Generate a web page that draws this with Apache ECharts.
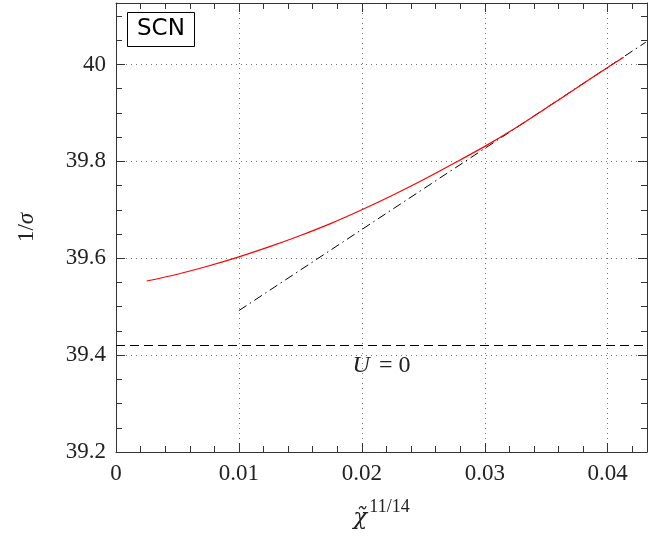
<!DOCTYPE html>
<html>
<head>
<meta charset="utf-8">
<script src="https://cdn.jsdelivr.net/npm/echarts@6/dist/echarts.min.js"></script>
<style>
  html, body { margin: 0; padding: 0; background: #fff; }
  #chart { width: 649px; height: 536px; }
</style>
</head>
<body>
<div id="chart"></div>
<script>
  // red curve: 1/sigma against chi~^(11/14)
  var chiX = [0.0025, 0.005, 0.0075, 0.01, 0.0125, 0.015, 0.0175, 0.02, 0.0225, 0.025,
              0.0275, 0.03, 0.0325, 0.035, 0.0375, 0.04, 0.0413]
  var sigmaInv = [39.553, 39.567, 39.584, 39.603, 39.624, 39.647, 39.672, 39.700, 39.730, 39.762,
                  39.796, 39.831, 39.869, 39.910, 39.952, 39.994, 40.015]
  // dash-dot fit line end points
  var fitX = [0.01, 0.0431]
  var fitY = [39.492, 40.046]
  // U = 0 level
  var uZero = 39.424

  var serif = 'Liberation Serif'
  var frame = '#333'

  function pairs(xs, ys) {
    return xs.map(function (x, i) { return [x, ys[i]] })
  }

  function makeAxis(extra) {
    return Object.assign({
      type: 'value',
      axisLine: { show: true, onZero: false, lineStyle: { color: frame, width: 1 } },
      axisTick: { show: true, inside: true, length: 9, lineStyle: { color: frame } },
      minorTick: { show: true, length: 6, lineStyle: { color: frame } },
      splitLine: { show: false },
      axisLabel: { show: false }
    }, extra)
  }

  var chart = echarts.init(document.getElementById('chart'))
  chart.setOption({
    animation: false,
    grid: { left: 116, top: 3, right: 2, bottom: 84, outerBoundsMode: 'none', containLabel: false },
    title: {
      text: 'SCN',
      left: 127, top: 12,
      padding: [6, 10, 6, 10],
      borderColor: '#000', borderWidth: 1,
      textStyle: { fontFamily: 'DejaVu Sans', fontSize: 23, fontWeight: 'normal', color: '#000' }
    },
    xAxis: [
      makeAxis({
        min: 0, max: 0.0432, interval: 0.01,
        minorTick: { show: true, splitNumber: 5, length: 6, lineStyle: { color: frame } },
        splitLine: { show: true, lineStyle: { color: '#777', type: [1, 4] } },
        axisLabel: {
          show: true, margin: 10, fontFamily: serif, fontSize: 23, color: '#222',
          formatter: function (v) { return v === 0 ? '0' : v.toFixed(2) },
          showMaxLabel: false
        },
        name: '{c|χ̃}{s|11/14}',
        nameLocation: 'middle', nameGap: 46,
        nameTextStyle: {
          rich: {
            c: { fontFamily: 'DejaVu Serif', fontStyle: 'italic', fontSize: 23, color: '#222', lineHeight: 40 },
            s: { fontFamily: serif, fontSize: 18, color: '#222', lineHeight: 16, verticalAlign: 'top', padding: [0, 0, 0, 2] }
          }
        }
      }),
      makeAxis({
        position: 'top', min: 0, max: 0.0432, interval: 0.01,
        minorTick: { show: true, splitNumber: 5, length: 6, lineStyle: { color: frame } }
      })
    ],
    yAxis: [
      makeAxis({
        min: 39.2, max: 40.127, interval: 0.2,
        minorTick: { show: true, splitNumber: 4, length: 6, lineStyle: { color: frame } },
        splitLine: { show: true, lineStyle: { color: '#777', type: [1, 4] } },
        axisLabel: {
          show: true, margin: 10, fontFamily: serif, fontSize: 23, color: '#222',
          formatter: function (v) { return v === 40 ? '40' : v.toFixed(1) },
          showMaxLabel: false
        },
        name: '{n|1/}{g|σ}',
        nameLocation: 'middle', nameGap: 78, nameRotate: 90,
        nameTextStyle: {
          rich: {
            n: { fontFamily: serif, fontSize: 23, color: '#222' },
            g: { fontFamily: serif, fontStyle: 'italic', fontSize: 23, color: '#222' }
          }
        }
      }),
      makeAxis({
        position: 'right', min: 39.2, max: 40.127, interval: 0.2,
        minorTick: { show: true, splitNumber: 4, length: 6, lineStyle: { color: frame } }
      })
    ],
    series: [
      {
        type: 'line',
        data: pairs(fitX, fitY),
        symbol: 'none',
        lineStyle: { color: '#000', width: 1, type: [9, 4, 1.5, 4] },
        markLine: {
          silent: true,
          symbol: 'none',
          lineStyle: { color: '#000', width: 1, type: [9, 5] },
          label: {
            position: 'insideMiddleBottom',
            distance: 8,
            formatter: '{u|U}{e|= 0}',
            rich: {
              u: { fontFamily: serif, fontStyle: 'italic', fontSize: 24, color: '#222' },
              e: { fontFamily: serif, fontSize: 24, color: '#222', padding: [0, 0, 0, 9] }
            }
          },
          data: [{ yAxis: uZero }]
        }
      },
      {
        type: 'line',
        data: pairs(chiX, sigmaInv),
        symbol: 'none',
        smooth: 0.3,
        lineStyle: { color: '#f00', width: 1.2 }
      }
    ]
  })
</script>
</body>
</html>
